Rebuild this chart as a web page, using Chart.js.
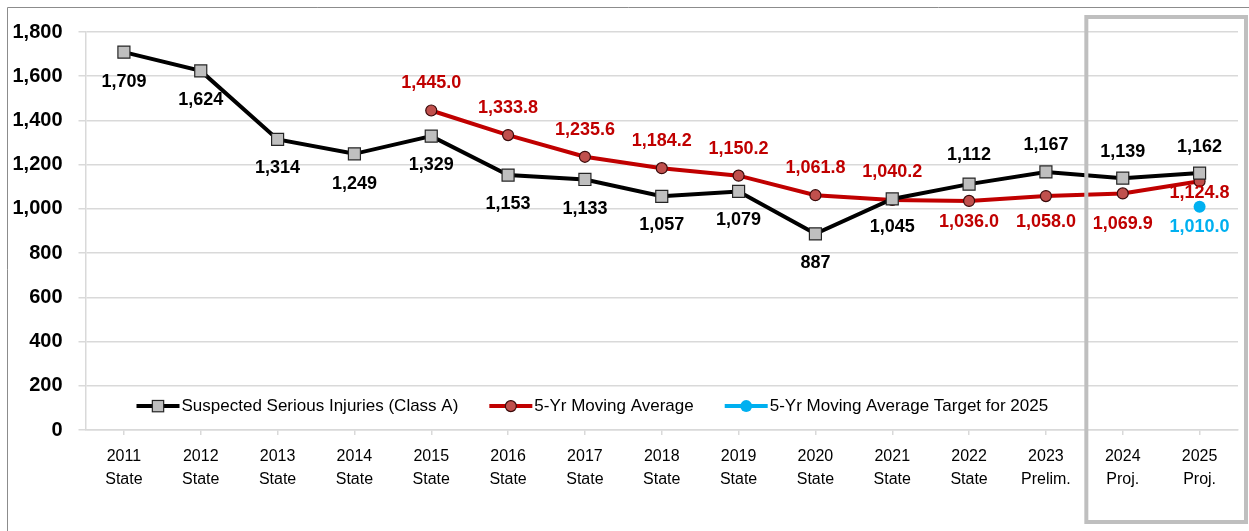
<!DOCTYPE html>
<html>
<head>
<meta charset="utf-8">
<script src="https://cdn.jsdelivr.net/npm/chart.js@4.4.1/dist/chart.umd.min.js"></script>
<style>
  html, body { margin: 0; padding: 0; background: #fff; }
  #wrap { width: 1249px; height: 531px; }
</style>
</head>
<body>
<div id="wrap"><canvas id="myChart" width="1249" height="531"></canvas></div>
<script>
// x-axis categories (two lines each)
var years = ["2011","2012","2013","2014","2015","2016","2017","2018","2019","2020","2021","2022","2023","2024","2025"];
var kinds = ["State","State","State","State","State","State","State","State","State","State","State","State","Prelim.","Proj.","Proj."];
// series
var seriousInjuries = [1709,1624,1314,1249,1329,1153,1133,1057,1079,887,1045,1112,1167,1139,1162];
var movingAverage = [null,null,null,null,1445.0,1333.8,1235.6,1184.2,1150.2,1061.8,1040.2,1036.0,1058.0,1069.9,1124.8];
var target2025 = [null,null,null,null,null,null,null,null,null,null,null,null,null,null,1010.0];

// label offsets from each point (pixels, + is below)
var injuryLabelDy = [30,29,29,30,29,29,30,29,29,29,28,-29,-27,-26,-26];
var averageLabelDy = [0,0,0,0,-27,-27,-27,-27,-27,-27,-28,21,26,31,12];
var targetLabelDy = [0,0,0,0,0,0,0,0,0,0,0,0,0,0,20];

var labels = years.map(function (y, i) { return [y, kinds[i]]; });
var FONT = "'Liberation Sans', Arial, sans-serif";

function fmt(v, dec) {
  return v.toLocaleString('en-US', { minimumFractionDigits: dec, maximumFractionDigits: dec });
}

// value labels next to the points
var valueLabels = {
  id: 'valueLabels',
  afterDatasetsDraw: function (chart) {
    var ctx = chart.ctx;
    ctx.save();
    ctx.font = 'bold 18px ' + FONT;
    ctx.textAlign = 'center';
    ctx.textBaseline = 'middle';
    chart.data.datasets.forEach(function (ds, di) {
      var meta = chart.getDatasetMeta(di);
      meta.data.forEach(function (pt, i) {
        var v = ds.data[i];
        if (v === null || v === undefined) return;
        ctx.fillStyle = ds.labelColor;
        ctx.fillText(fmt(v, ds.decimals), pt.x, pt.y + ds.labelDy[i]);
      });
    });
    ctx.restore();
  }
};

// legend drawn inside the plot, near the bottom
var innerLegend = {
  id: 'innerLegend',
  afterDraw: function (chart) {
    var ctx = chart.ctx;
    var area = chart.chartArea;
    var y = chart.scales.y.getPixelForValue(108);
    var x = area.left + 51;
    ctx.save();
    ctx.font = '17px ' + FONT;
    ctx.textBaseline = 'middle';
    chart.data.datasets.forEach(function (ds) {
      ctx.strokeStyle = ds.borderColor;
      ctx.lineWidth = 4;
      ctx.beginPath();
      ctx.moveTo(x, y);
      ctx.lineTo(x + 43, y);
      ctx.stroke();
      ctx.fillStyle = ds.pointBackgroundColor;
      ctx.strokeStyle = ds.pointBorderColor;
      ctx.lineWidth = ds.pointBorderWidth;
      if (ds.pointStyle === 'rect') {
        var s = ds.legendRadius * Math.SQRT1_2;
        ctx.fillRect(x + 21.5 - s, y - s, 2 * s, 2 * s);
        if (ds.pointBorderWidth) ctx.strokeRect(x + 21.5 - s, y - s, 2 * s, 2 * s);
      } else {
        ctx.beginPath();
        ctx.arc(x + 21.5, y, ds.legendRadius, 0, Math.PI * 2);
        ctx.fill();
        if (ds.pointBorderWidth) ctx.stroke();
      }
      ctx.fillStyle = '#000';
      ctx.fillText(ds.label, x + 45, y);
      x += 45 + ctx.measureText(ds.label).width + 31;
    });
    ctx.restore();
  }
};

// outer frame and the grey box around the projected years
var frames = {
  id: 'frames',
  afterDraw: function (chart) {
    var ctx = chart.ctx;
    var xs = chart.scales.x;
    ctx.save();
    ctx.strokeStyle = '#8c8c8c';
    ctx.lineWidth = 1;
    ctx.beginPath();
    ctx.moveTo(7.5, chart.height);
    ctx.lineTo(7.5, 7.5);
    ctx.lineTo(chart.width, 7.5);
    ctx.stroke();

    var left = (xs.getPixelForValue(12) + xs.getPixelForValue(13)) / 2 + 2;
    ctx.strokeStyle = '#bfbfbf';
    ctx.lineWidth = 4;
    ctx.strokeRect(left, 17, chart.width - 3 - left, 505);
    ctx.restore();
  }
};

var ctx = document.getElementById("myChart");
var myChart = new Chart(ctx, {
  type: 'line',
  data: {
    labels: labels,
    datasets: [
      {
        label: "Suspected Serious Injuries (Class A)",
        data: seriousInjuries,
        borderColor: "#000000",
        borderWidth: 4,
        pointStyle: 'rect',
        pointRadius: 8.5,
        legendRadius: 8,
        pointBackgroundColor: "#bfbfbf",
        pointBorderColor: "#262626",
        pointBorderWidth: 1.2,
        labelColor: "#000000",
        labelDy: injuryLabelDy,
        decimals: 0,
        fill: false
      },
      {
        label: "5-Yr Moving Average",
        data: movingAverage,
        borderColor: "#c00000",
        borderWidth: 4,
        pointStyle: 'circle',
        pointRadius: 5.5,
        legendRadius: 5.5,
        pointBackgroundColor: "#c0504d",
        pointBorderColor: "#3a0a0a",
        pointBorderWidth: 1.2,
        labelColor: "#c00000",
        labelDy: averageLabelDy,
        decimals: 1,
        fill: false
      },
      {
        label: "5-Yr Moving Average Target for 2025",
        data: target2025,
        borderColor: "#00b0f0",
        borderWidth: 4,
        showLine: false,
        pointStyle: 'circle',
        pointRadius: 6,
        legendRadius: 6,
        pointBackgroundColor: "#00b0f0",
        pointBorderColor: "#00b0f0",
        pointBorderWidth: 0,
        labelColor: "#00b0f0",
        labelDy: targetLabelDy,
        decimals: 1,
        fill: false
      }
    ]
  },
  options: {
    responsive: false,
    animation: false,
    layout: { padding: { top: 32, right: 11, bottom: 0, left: 0 } },
    plugins: {
      legend: { display: false },
      tooltip: { enabled: false }
    },
    scales: {
      x: {
        offset: true,
        grid: { drawOnChartArea: false, offset: false, tickLength: 5, color: '#d9d9d9', lineWidth: 1.5 },
        border: { color: '#d9d9d9', width: 1.5 },
        ticks: { color: '#000', font: { family: FONT, size: 16, lineHeight: 1.45 }, padding: 10, maxRotation: 0, autoSkip: false },
        afterFit: function (s) { s.height = 101; }
      },
      y: {
        min: 0,
        max: 1800,
        grid: { color: '#d9d9d9', lineWidth: 1.5, tickLength: 7 },
        border: { color: '#d9d9d9', width: 1.5 },
        ticks: {
          stepSize: 200,
          color: '#000',
          padding: 16,
          font: { family: FONT, size: 20, weight: 'bold' },
          callback: function (v) { return v.toLocaleString('en-US'); }
        },
        afterFit: function (s) { s.width = 85.5; }
      }
    }
  },
  plugins: [valueLabels, innerLegend, frames]
});
</script>
</body>
</html>
